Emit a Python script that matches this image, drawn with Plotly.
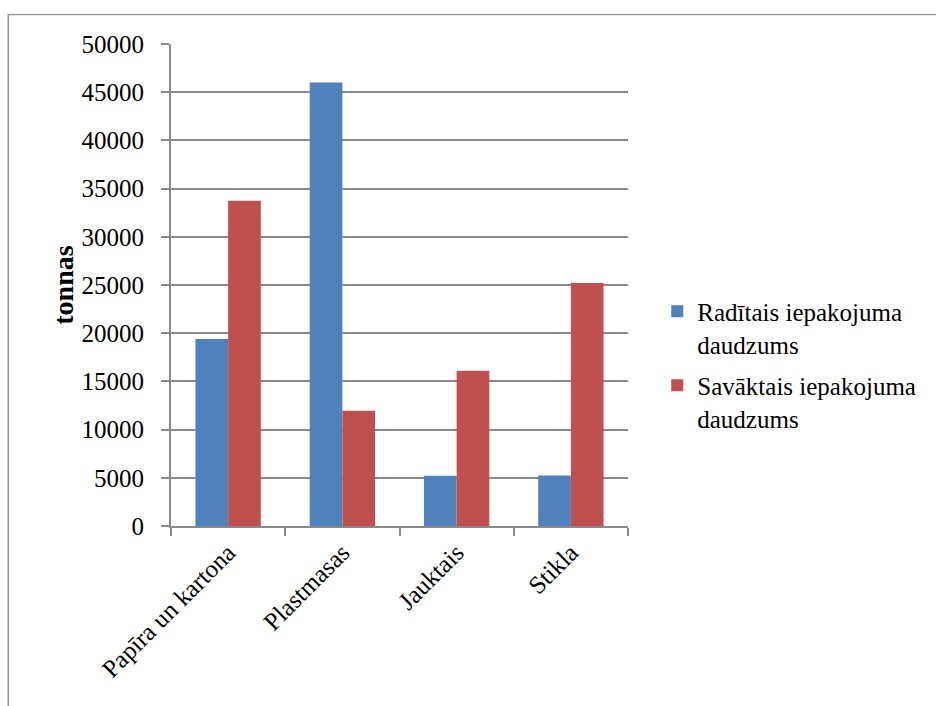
import plotly.graph_objects as go

categories = ["Papīra un kartona", "Plastmasas", "Jauktais", "Stikla"]
produced = [19400, 46000, 5200, 5250]
collected = [33750, 11950, 16100, 25200]
series_names = ["Radītais iepakojuma<br>daudzums", "Savāktais iepakojuma<br>daudzums"]
y_ticks = [0, 5000, 10000, 15000, 20000, 25000, 30000, 35000, 40000, 45000, 50000]

FONT = "Liberation Serif"
GRID = "#8a8a8a"
text_font = dict(family=FONT, size=25, color="black")

fig = go.Figure()
fig.add_trace(go.Bar(x=categories, y=produced, name=series_names[0],
                     legendgroup="produced",
                     marker=dict(color="#4F81BD", line=dict(width=0))))
fig.add_trace(go.Bar(x=categories, y=collected, name=series_names[1],
                     legendgroup="collected",
                     marker=dict(color="#C0504D", line=dict(width=0))))

fig.update_layout(
    template="none",
    width=936, height=706,
    margin=dict(l=171, r=308, t=44, b=180),
    paper_bgcolor="white", plot_bgcolor="white",
    barmode="group", bargap=0.428, bargroupgap=0,
    font=text_font,
    showlegend=True,
    legend=dict(x=1.064, y=0.335, xanchor="left", yanchor="middle",
                font=text_font, valign="top", tracegroupgap=6, itemwidth=30,
                bgcolor="rgba(0,0,0,0)"),
    xaxis=dict(
        type="category", tickangle=-45, tickson="boundaries",
        ticks="outside", ticklen=8, tickcolor=GRID, tickwidth=2,
        showline=True, linecolor=GRID, linewidth=2,
        showgrid=False, tickfont=text_font,
    ),
    yaxis=dict(
        range=[0, 50000], tickvals=y_ticks, ticktext=[str(v) for v in y_ticks],
        ticks="outside", ticklen=8, tickcolor=GRID, tickwidth=2,
        ticklabelstandoff=12,
        showline=True, linecolor=GRID, linewidth=2,
        showgrid=True, gridcolor=GRID, gridwidth=2, zeroline=False,
        tickfont=text_font,
        title=dict(text="<b>tonnas</b>", font=dict(family=FONT, size=28, color="black"),
                   standoff=0),
    ),
    shapes=[dict(type="rect", xref="paper", yref="paper",
                 x0=-0.356, x1=1.7, y0=-0.4, y1=1.061,
                 line=dict(color="#9a9a9a", width=1.5), fillcolor="rgba(0,0,0,0)",
                 layer="below")],
)

fig.write_html("out.html")
